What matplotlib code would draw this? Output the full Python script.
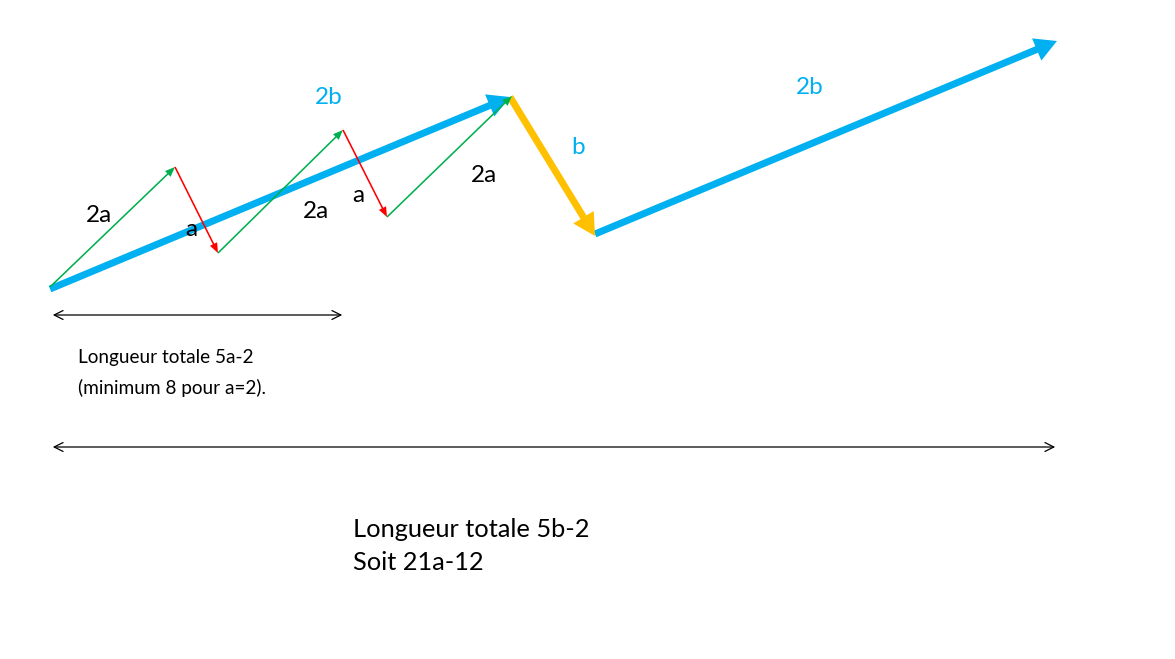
import matplotlib.pyplot as plt

# segments (start, end) in picture pixel coordinates
blue_segs = [((50, 289), (510, 97)), ((595, 234), (1057, 41))]
orange_segs = [((510, 97), (595, 236))]
green_segs = [((50, 287), (175, 167)), ((218, 253), (343, 130)), ((387, 217), (512, 96))]
red_segs = [((175, 167), (218, 253)), ((343, 130), (387, 217))]
span_segs = [((50, 315), (345, 315)), ((50, 447), (1058, 447))]

black_labels = [("2a", 99, 215), ("a", 191, 230), ("2a", 316, 211), ("a", 358, 195), ("2a", 484, 176)]
blue_labels = [("2b", 329, 97), ("b", 578, 148), ("2b", 810, 88)]
note_small = "Longueur totale 5a-2\n(minimum 8 pour a=2)."
note_big = "Longueur totale 5b-2\nSoit 21a-12"

fig = plt.figure(figsize=(11.75, 6.59), dpi=100)
ax = fig.add_axes([0, 0, 1, 1])
ax.set_xlim(0, 1175)
ax.set_ylim(659, 0)
ax.axis('off')

def arrows(segs, color, w, hw, hl, z):
    for (x0, y0), (x1, y1) in segs:
        ax.arrow(x0, y0, x1 - x0, y1 - y0, width=w, head_width=hw, head_length=hl,
                 length_includes_head=True, color=color, lw=0, zorder=z)

arrows(blue_segs, '#00b0f0', 7, 24, 22, 2)
arrows(orange_segs, '#ffc000', 7, 24, 22, 3)
arrows(green_segs, '#00b050', 1.6, 8, 10, 4)
arrows(red_segs, '#ff0000', 1.6, 8, 10, 4)

for (x0, y0), (x1, y1) in span_segs:
    ax.annotate('', xy=(x1, y0), xytext=(x0, y0),
                arrowprops=dict(arrowstyle='<->', lw=0.9, color='black', mutation_scale=16))

for t, x, y in black_labels:
    ax.text(x, y, t, fontsize=17.5, family='Lato', ha='center', va='center', color='black', zorder=5)
for t, x, y in blue_labels:
    ax.text(x, y, t, fontsize=17.5, family='Lato', ha='center', va='center', color='#00b0f0', zorder=5)

ax.text(78, 373, note_small, fontsize=13.7, family='Lato', ha='left', va='center', linespacing=1.85)
ax.text(353, 546, note_big, fontsize=18.3, family='Lato', ha='left', va='center', linespacing=1.48)

fig.savefig('out.png', dpi=100)
